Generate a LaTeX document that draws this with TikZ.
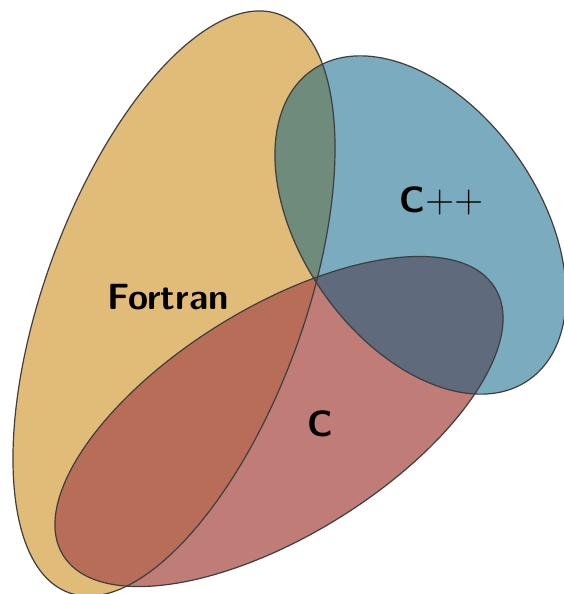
\documentclass[tikz,border=0pt]{standalone}
\usepackage{tikz}

% region colours
\definecolor{fortranfill}{RGB}{224,188,120}
\definecolor{cppfill}{RGB}{122,171,191}
\definecolor{cfill}{RGB}{192,124,118}
\definecolor{fortrancpp}{RGB}{110,139,123}
\definecolor{fortranc}{RGB}{184,109,88}
\definecolor{ccpp}{RGB}{95,106,124}
\definecolor{allthree}{RGB}{94,92,100}
\definecolor{rim}{RGB}{62,62,62}

% the three sets
\def\setFortran{(174,303.5) ellipse [x radius=307.7pt, y radius=129.7pt, rotate=70]}
\def\setCpp{(420.5,225) ellipse [x radius=189pt, y radius=118.6pt, rotate=-55]}
\def\setC{(279,421.5) ellipse [x radius=254pt, y radius=113.6pt, rotate=31.8]}

\tikzset{
  rimline/.style={draw=rim, line width=1.2pt},
  setlabel/.style={font=\sffamily\bfseries\fontsize{36.5}{40}\selectfont, anchor=base, inner sep=0pt}
}

\begin{document}
\begin{tikzpicture}[x=1pt, y=-1pt]
\useasboundingbox (0,0) rectangle (563,594);

% single sets
\fill[fortranfill] \setFortran;
\fill[cfill] \setC;
\fill[cppfill] \setCpp;

% pairwise overlaps
\begin{scope}
  \clip \setFortran;
  \fill[fortranc] \setC;
  \fill[fortrancpp] \setCpp;
\end{scope}
\begin{scope}
  \clip \setC;
  \fill[ccpp] \setCpp;
\end{scope}
% common part of all three
\begin{scope}
  \clip \setFortran;
  \clip \setC;
  \fill[allthree] \setCpp;
\end{scope}

% outlines
\draw[rimline] \setFortran;
\draw[rimline] \setC;
\draw[rimline] \setCpp;

% labels
\node[setlabel] (fortran) at (168,309) {Fortran};
\node[setlabel] (cpp) at (442,212) {C{\mdseries\fontsize{40}{44}\selectfont ++}};
\node[setlabel] (c) at (320,436) {C};
\end{tikzpicture}
\end{document}
